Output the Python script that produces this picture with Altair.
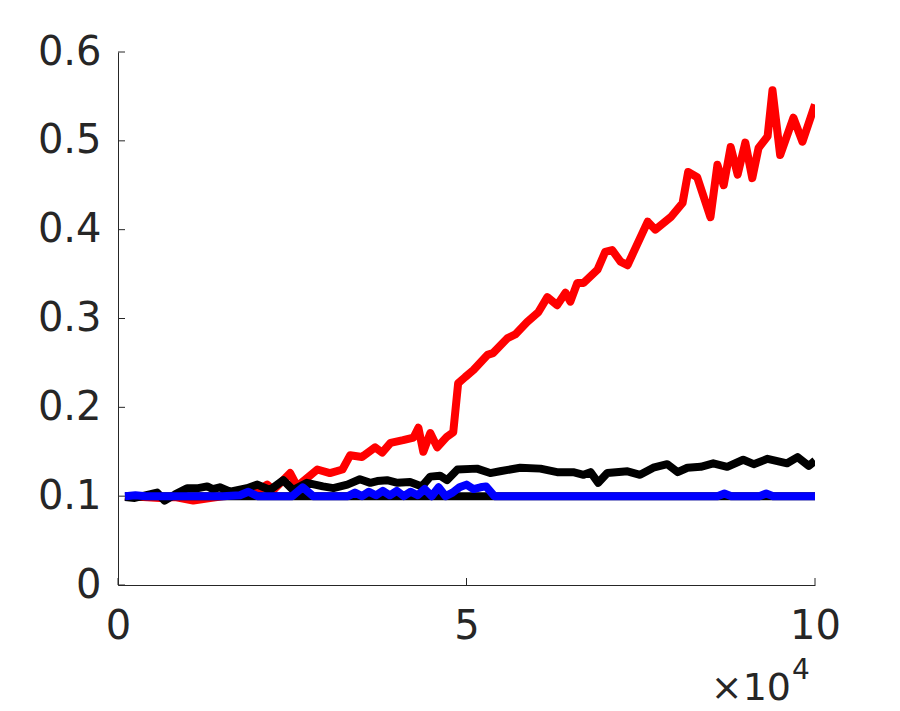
import altair as alt
import pandas as pd

# x in units of iterations, displayed as x 10^4
red_x = [0.10, 0.36, 0.60, 0.82, 1.08, 1.32, 1.50, 1.75, 1.95, 2.14, 2.23, 2.47, 2.57, 2.86,
         3.04, 3.22, 3.33, 3.50, 3.69, 3.79, 3.91, 4.09, 4.24, 4.31, 4.38, 4.48, 4.58, 4.72,
         4.81, 4.88, 4.98, 5.10, 5.30, 5.38, 5.59, 5.70, 5.87, 6.03, 6.16, 6.30, 6.42, 6.49,
         6.59, 6.68, 6.88, 6.99, 7.09, 7.21, 7.31, 7.60, 7.71, 7.93, 8.10, 8.18, 8.31, 8.50,
         8.60, 8.69, 8.79, 8.89, 9.00, 9.10, 9.19, 9.32, 9.39, 9.50, 9.69, 9.82, 10.0]
red_y = [0.100, 0.099, 0.098, 0.099, 0.095, 0.098, 0.100, 0.101, 0.103, 0.113, 0.107, 0.126, 0.111, 0.130,
         0.126, 0.130, 0.146, 0.144, 0.155, 0.149, 0.160, 0.163, 0.166, 0.177, 0.150, 0.171, 0.155, 0.167,
         0.172, 0.227, 0.234, 0.242, 0.259, 0.261, 0.278, 0.282, 0.296, 0.307, 0.324, 0.315, 0.329, 0.319,
         0.340, 0.340, 0.355, 0.375, 0.377, 0.364, 0.360, 0.409, 0.400, 0.414, 0.430, 0.465, 0.459, 0.414,
         0.473, 0.450, 0.493, 0.462, 0.498, 0.458, 0.492, 0.505, 0.557, 0.484, 0.526, 0.499, 0.541]

black_x = [0.10, 0.24, 0.56, 0.67, 0.82, 0.99, 1.15, 1.28, 1.36, 1.46, 1.61, 1.85, 2.00, 2.18,
           2.37, 2.51, 2.71, 2.94, 3.09, 3.29, 3.47, 3.62, 3.72, 3.86, 4.01, 4.19, 4.36, 4.48,
           4.62, 4.72, 4.87, 5.15, 5.34, 5.48, 5.77, 6.06, 6.30, 6.53, 6.68, 6.78, 6.89, 7.02,
           7.31, 7.49, 7.68, 7.88, 8.03, 8.17, 8.36, 8.54, 8.74, 8.97, 9.12, 9.32, 9.60, 9.75,
           9.91, 10.0]
black_y = [0.099, 0.098, 0.104, 0.095, 0.102, 0.109, 0.109, 0.111, 0.108, 0.110, 0.105, 0.109, 0.113, 0.107,
           0.118, 0.107, 0.115, 0.111, 0.109, 0.113, 0.119, 0.115, 0.117, 0.118, 0.115, 0.116, 0.111, 0.122,
           0.123, 0.118, 0.130, 0.131, 0.126, 0.128, 0.132, 0.131, 0.127, 0.127, 0.124, 0.127, 0.115, 0.126,
           0.128, 0.124, 0.132, 0.136, 0.127, 0.132, 0.133, 0.137, 0.133, 0.141, 0.136, 0.142, 0.137, 0.144,
           0.134, 0.140]

base_x = [0.10, 10.0]
base_y = [0.100, 0.100]

blue_x = [0.10, 0.25, 0.40, 1.00, 1.50, 1.75, 1.87, 2.00, 2.50, 2.65, 2.80, 3.30, 3.40, 3.50,
          3.60, 3.70, 3.80, 3.90, 4.00, 4.10, 4.20, 4.30, 4.40, 4.50, 4.60, 4.70, 4.80, 4.90,
          5.00, 5.10, 5.20, 5.28, 5.40, 6.00, 7.00, 8.00, 8.60, 8.70, 8.80, 9.20, 9.30, 9.40, 10.0]
blue_y = [0.100, 0.101, 0.100, 0.100, 0.100, 0.101, 0.105, 0.100, 0.100, 0.110, 0.100, 0.100, 0.104, 0.100,
          0.105, 0.101, 0.106, 0.101, 0.106, 0.100, 0.105, 0.101, 0.108, 0.100, 0.110, 0.100, 0.104, 0.110,
          0.113, 0.108, 0.110, 0.111, 0.100, 0.100, 0.100, 0.100, 0.100, 0.103, 0.100, 0.100, 0.103, 0.100, 0.100]

x_ticks = [0, 50000, 100000]
y_ticks = [0, 0.1, 0.2, 0.3, 0.4, 0.5, 0.6]

W, H = 697, 533
AX = "#262626"
FONT = "DejaVu Sans"
FS = 40


def df(xs, ys):
    return pd.DataFrame({"x": [v * 10000 for v in xs], "y": ys})


xscale = alt.Scale(domain=[0, 100000], nice=False)
yscale = alt.Scale(domain=[0, 0.6], nice=False)

xenc = alt.X("x:Q", scale=xscale, axis=alt.Axis(
    values=x_ticks, labelExpr="datum.value / 10000", ticks=False, grid=False,
    domainColor=AX, domainWidth=1, labelColor=AX, labelFont=FONT, labelFontSize=FS,
    labelPadding=21, title=None, labelFlush=False))
yenc = alt.Y("y:Q", scale=yscale, axis=alt.Axis(
    values=y_ticks, format="~g", ticks=False, grid=False,
    domainColor=AX, domainWidth=1, labelColor=AX, labelFont=FONT, labelFontSize=FS,
    labelPadding=17, title=None, labelFlush=False))


def line(xs, ys, color):
    return alt.Chart(df(xs, ys)).mark_line(
        color=color, strokeWidth=8, strokeJoin="round", strokeCap="butt", clip=True
    ).encode(x=xenc, y=yenc)


xt = alt.Chart(pd.DataFrame({"x": x_ticks})).mark_rule(color=AX, strokeWidth=1).encode(
    x=alt.X("x:Q", scale=xscale), y=alt.value(H), y2=alt.value(H - 7))
yt = alt.Chart(pd.DataFrame({"y": y_ticks})).mark_rule(color=AX, strokeWidth=1).encode(
    y=alt.Y("y:Q", scale=yscale), x=alt.value(0), x2=alt.value(7))

exp_base = alt.Chart(pd.DataFrame({"t": ["\u00d710"]})).mark_text(
    font=FONT, fontSize=38, color=AX, align="right", baseline="alphabetic"
).encode(text="t:N", x=alt.value(673), y=alt.value(648))
exp_pow = alt.Chart(pd.DataFrame({"t": ["4"]})).mark_text(
    font=FONT, fontSize=28, color=AX, align="left", baseline="alphabetic"
).encode(text="t:N", x=alt.value(674), y=alt.value(627))

chart = alt.layer(
    line(red_x, red_y, "#ff0000"),
    line(black_x, black_y, "#000000"),
    line(base_x, base_y, "#000000"),
    line(blue_x, blue_y, "#0000ff"),
    xt, yt, exp_base, exp_pow,
).properties(
    width=W, height=H,
    autosize=alt.AutoSizeParams(type="none"),
    padding={"left": 110, "top": 44, "right": 70, "bottom": 140},
).configure(background="white").configure_view(strokeWidth=0, stroke="transparent")

chart.save("out.html", embed_options={"renderer": "svg", "actions": False})
